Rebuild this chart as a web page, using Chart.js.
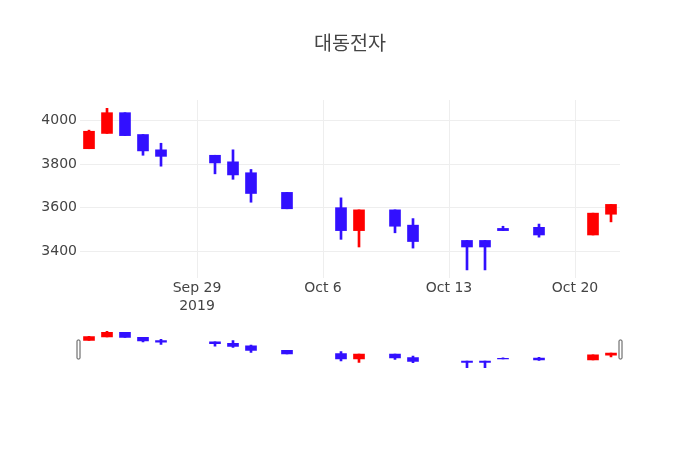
<!DOCTYPE html>
<html lang="ko">
<head>
    <meta charset="UTF-8">
    <script src="https://cdn.jsdelivr.net/npm/chart.js@4.4.0/dist/chart.umd.min.js"></script>
    <title>대동전자</title>
</head>
<style>
  body {
    margin: 0;
    background-color: white;
  }
  .wrap {
    position: relative;
    width: 700px;
    height: 450px;
  }
  .wrap canvas {
    position: absolute;
    left: 0;
    top: 0;
  }
</style>
<body>
    <div class="wrap">
      <canvas id="mainChart" width="700" height="450"></canvas>
      <canvas id="sliderChart" width="700" height="450"></canvas>
    </div>

    <script>
    const dates = ['2019-09-23', '2019-09-24', '2019-09-25', '2019-09-26', '2019-09-27',
                   '2019-09-30', '2019-10-01', '2019-10-02', '2019-10-04',
                   '2019-10-07', '2019-10-08', '2019-10-10', '2019-10-11',
                   '2019-10-14', '2019-10-15', '2019-10-16', '2019-10-18',
                   '2019-10-21', '2019-10-22'];
    const openPrices  = [3870, 3940, 4035, 3935, 3865, 3840, 3810, 3760, 3670, 3600, 3495, 3590, 3520, 3450, 3450, 3505, 3510, 3475, 3570];
    const highPrices  = [3955, 4055, 4035, 3935, 3895, 3840, 3865, 3775, 3670, 3645, 3590, 3590, 3550, 3450, 3450, 3515, 3525, 3575, 3615];
    const lowPrices   = [3870, 3940, 3930, 3840, 3790, 3755, 3730, 3625, 3595, 3455, 3420, 3485, 3415, 3315, 3315, 3495, 3465, 3475, 3535];
    const closePrices = [3950, 4035, 3930, 3860, 3835, 3805, 3750, 3665, 3595, 3495, 3590, 3515, 3445, 3420, 3420, 3495, 3475, 3575, 3615];

    const tickDates = ['2019-09-29', '2019-10-06', '2019-10-13', '2019-10-20'];
    const tickLabels = [['Sep 29', '2019'], 'Oct 6', 'Oct 13', 'Oct 20'];
    const yTicks = [3400, 3600, 3800, 4000];

    // x axis in days counted from Sep 22 2019
    const day0 = Date.UTC(2019, 8, 22);
    function toDay(s) {
      const p = s.split('-');
      return (Date.UTC(+p[0], +p[1] - 1, +p[2]) - day0) / 86400000;
    }
    const xMin = toDay('2019-09-22') + 0.5;
    const xMax = toDay('2019-10-22') + 0.5;
    const yMin = 3278, yMax = 4093;

    const upColor = '#ff0000';
    const downColor = '#3210ff';
    const colors = openPrices.map((o, i) => closePrices[i] >= o ? upColor : downColor);

    const bodies = dates.map((d, i) => ({x: toDay(d), y: [openPrices[i], closePrices[i]]}));
    const wicks = dates.map((d, i) => ({x: toDay(d), y: [lowPrices[i], highPrices[i]]}));
    const tickPos = tickDates.map(toDay);

    const font = "'DejaVu Sans', verdana, 'Noto Sans CJK KR', sans-serif";

    function makeDatasets(wickWidth) {
      return [{
        label: 'body',
        data: bodies,
        backgroundColor: colors,
        barThickness: 11,
        grouped: false,
        borderSkipped: false
      }, {
        label: 'wick',
        data: wicks,
        backgroundColor: colors,
        barThickness: wickWidth,
        grouped: false,
        borderSkipped: false
      }];
    }

    new Chart(document.getElementById('mainChart'), {
      type: 'bar',
      data: { datasets: makeDatasets(2) },
      options: {
        responsive: false,
        animation: false,
        layout: { padding: 0 },
        plugins: {
          legend: { display: false },
          tooltip: { enabled: false },
          title: {
            display: true,
            text: '대동전자',
            color: '#444',
            font: { family: font, size: 19.6, weight: 'normal', lineHeight: 1.2 },
            padding: { top: 33, bottom: 43.5 }
          }
        },
        scales: {
          x: {
            type: 'linear',
            min: xMin,
            max: xMax,
            offset: false,
            afterBuildTicks: s => { s.ticks = tickPos.map(v => ({value: v})); },
            afterFit: s => { s.height = 172; },
            ticks: {
              color: '#444',
              padding: 1,
              maxRotation: 0,
              autoSkip: false,
              font: { family: font, size: 14, lineHeight: 1.3 },
              callback: (v, i) => tickLabels[i]
            },
            grid: { color: '#eee', drawTicks: false, offset: false },
            border: { display: false }
          },
          y: {
            min: yMin,
            max: yMax,
            afterBuildTicks: s => { s.ticks = yTicks.map(v => ({value: v})); },
            afterFit: s => { s.width = 80; },
            ticks: {
              color: '#444',
              padding: 3,
              font: { family: font, size: 14 },
              callback: v => String(v)
            },
            grid: { color: '#eee', drawTicks: false },
            border: { display: false }
          },
          // empty right margin so the title is centred on the page
          yRight: {
            position: 'right',
            min: yMin,
            max: yMax,
            afterFit: s => { s.width = 80; },
            ticks: { display: false },
            grid: { display: false },
            border: { display: false }
          }
        }
      }
    });

    // range slider handles
    const handles = {
      id: 'handles',
      afterDraw(chart) {
        const ctx = chart.ctx;
        const a = chart.chartArea;
        const h = (a.bottom - a.top) / 2;
        const top = a.top + h / 2;
        ctx.save();
        ctx.fillStyle = '#fff';
        ctx.strokeStyle = '#555';
        ctx.lineWidth = 1;
        [a.left - 1.5, a.right + 0.5].forEach(x => {
          ctx.beginPath();
          ctx.roundRect(x - 1.5, top + 0.5, 3, h - 1, 1);
          ctx.fill();
          ctx.stroke();
        });
        ctx.restore();
      }
    };

    new Chart(document.getElementById('sliderChart'), {
      type: 'bar',
      data: { datasets: makeDatasets(2) },
      options: {
        responsive: false,
        animation: false,
        layout: { padding: { left: 80, right: 80, top: 329.5, bottom: 80.5 } },
        plugins: { legend: { display: false }, tooltip: { enabled: false } },
        scales: {
          x: { type: 'linear', min: xMin, max: xMax, offset: false, display: false },
          y: { min: yMin, max: yMax, display: false }
        }
      },
      plugins: [handles]
    });
    </script>
</body>
</html>
